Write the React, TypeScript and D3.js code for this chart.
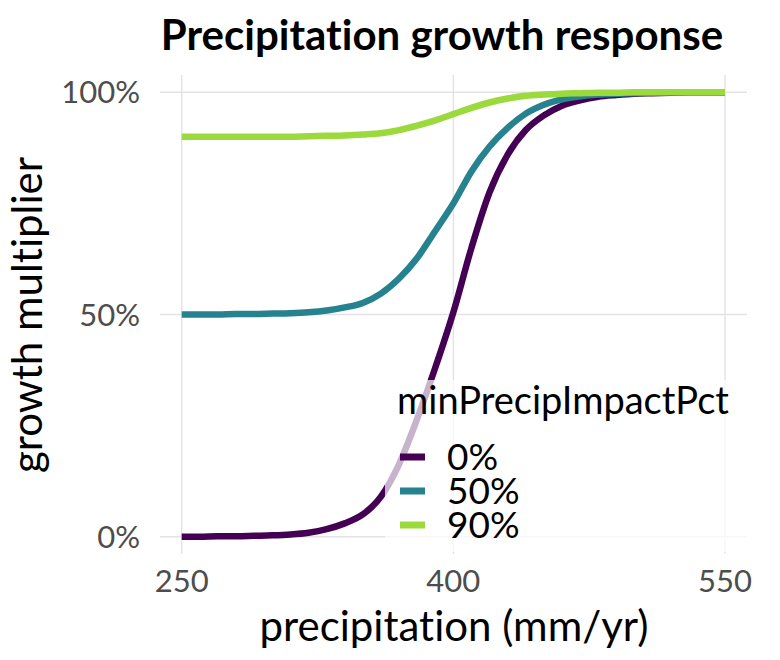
import React, { useEffect, useRef } from 'react';
import * as d3 from 'd3';

// precipitation (mm/yr) at which each curve is sampled
const precip = [
  250, 260, 270, 280, 290, 300, 310, 320, 330, 340, 350, 360, 370, 380, 390, 400,
  410, 420, 430, 440, 450, 460, 470, 480, 490, 500, 510, 520, 530, 540, 550
];

// growth multiplier for each minPrecipImpactPct level
const mult0 = [
  0.0, 0.0, 0.001, 0.001, 0.002, 0.003, 0.005, 0.009, 0.017, 0.03, 0.05, 0.09, 0.163, 0.265, 0.38, 0.505,
  0.65, 0.775, 0.86, 0.915, 0.948, 0.97, 0.982, 0.99, 0.994, 0.997, 0.998, 0.999, 1.0, 1.0, 1.0
];
const mult50 = [
  0.5, 0.5, 0.5, 0.501, 0.501, 0.502, 0.503, 0.505, 0.509, 0.516, 0.526, 0.547, 0.581, 0.627, 0.688, 0.75,
  0.822, 0.878, 0.92, 0.952, 0.972, 0.984, 0.991, 0.995, 0.997, 0.998, 0.999, 1.0, 1.0, 1.0, 1.0
];
const mult90 = [
  0.9, 0.9, 0.9, 0.9, 0.9, 0.9, 0.9, 0.901, 0.902, 0.903, 0.905, 0.908, 0.915, 0.925, 0.937, 0.951,
  0.965, 0.977, 0.986, 0.992, 0.995, 0.997, 0.998, 0.999, 0.999, 1.0, 1.0, 1.0, 1.0, 1.0, 1.0
];

const levels = ['0%', '50%', '90%'];
const colors = ['#440154', '#25828E', '#9BD93C'];
const xTicks = [250, 400, 550];
const yTicks = [0, 0.5, 1];

const W = 780;
const H = 660;
const FONT = 'Lato, "DejaVu Sans", sans-serif';

const App: React.FC = () => {
  const svgRef = useRef<SVGSVGElement>(null);

  useEffect(() => {
    if (!svgRef.current) return;
    const svg = d3.select(svgRef.current);
    svg.selectAll('*').remove();

    // panel area (gridlines run over the expanded range)
    const panel = { left: 160, right: 747, top: 75, bottom: 554 };

    const x = d3.scaleLinear().domain([250, 550]).range([181.7, 725]);
    const y = d3.scaleLinear().domain([0, 1]).range([536.7, 92.3]);

    svg.append('rect').attr('width', W).attr('height', H).attr('fill', '#fff');

    // gridlines
    const grid = svg.append('g').attr('stroke', '#E3E3E3').attr('stroke-width', 1.4);
    grid.selectAll('line.v')
      .data(xTicks)
      .join('line')
      .attr('class', 'v')
      .attr('x1', d => x(d)).attr('x2', d => x(d))
      .attr('y1', panel.top).attr('y2', panel.bottom);
    grid.selectAll('line.h')
      .data(yTicks)
      .join('line')
      .attr('class', 'h')
      .attr('x1', panel.left).attr('x2', panel.right)
      .attr('y1', d => y(d)).attr('y2', d => y(d));

    // curves, drawn 0% first so 90% ends up on top
    const series = [mult0, mult50, mult90];
    const line = d3.line<number>()
      .x((_, i) => x(precip[i]))
      .y(d => y(d))
      .curve(d3.curveMonotoneX);

    svg.append('g')
      .selectAll('path')
      .data(series)
      .join('path')
      .attr('d', d => line(d))
      .attr('fill', 'none')
      .attr('stroke', (_, i) => colors[i])
      .attr('stroke-width', 6.5)
      .attr('stroke-linecap', 'butt');

    const txt = (sel: d3.Selection<any, any, any, any>, size: number) =>
      sel.style('font-family', FONT)
        .style('font-size', `${size}px`)
        .style('font-variant-ligatures', 'none');

    // tick labels
    svg.append('g')
      .selectAll('text')
      .data(xTicks)
      .join('text')
      .attr('x', d => x(d))
      .attr('y', 592)
      .attr('text-anchor', 'middle')
      .call(txt, 31)
      .style('fill', '#4D4D4D')
      .text(d => String(d));

    svg.append('g')
      .selectAll('text')
      .data(yTicks)
      .join('text')
      .attr('x', 140)
      .attr('y', d => y(d) + 11)
      .attr('text-anchor', 'end')
      .call(txt, 31)
      .style('fill', '#4D4D4D')
      .text(d => d3.format('.0%')(d));

    // axis titles
    svg.append('text')
      .attr('x', 454)
      .attr('y', 641)
      .attr('text-anchor', 'middle')
      .call(txt, 42)
      .style('fill', '#000')
      .text('precipitation (mm/yr)');

    svg.append('text')
      .attr('transform', `translate(42,315) rotate(-90)`)
      .attr('text-anchor', 'middle')
      .call(txt, 42)
      .style('fill', '#000')
      .text('growth multiplier');

    // title
    svg.append('text')
      .attr('x', 442)
      .attr('y', 50)
      .attr('text-anchor', 'middle')
      .call(txt, 42)
      .style('font-weight', 'bold')
      .style('fill', '#000')
      .text('Precipitation growth response');

    // legend with translucent background
    const legend = svg.append('g');
    legend.append('rect')
      .attr('x', 385).attr('y', 380)
      .attr('width', 362).attr('height', 172)
      .attr('fill', '#fff')
      .attr('fill-opacity', 0.7);

    legend.append('text')
      .attr('x', 397)
      .attr('y', 414)
      .call(txt, 38)
      .style('fill', '#000')
      .text('minPrecipImpactPct');

    const items = legend.selectAll('g.item')
      .data(levels)
      .join('g')
      .attr('class', 'item')
      .attr('transform', (_, i) => `translate(0,${i * 34})`);
    items.append('line')
      .attr('x1', 400).attr('x2', 425)
      .attr('y1', 457).attr('y2', 457)
      .attr('stroke', (_, i) => colors[i])
      .attr('stroke-width', 7);
    items.append('text')
      .attr('x', 447)
      .attr('y', 470)
      .call(txt, 37)
      .style('fill', '#000')
      .text(d => d);
  }, []);

  return (
    <div style={{ position: 'absolute', left: 0, top: 0 }}>
      <svg ref={svgRef} width={W} height={H} style={{ display: 'block' }} />
    </div>
  );
};

export default App;
